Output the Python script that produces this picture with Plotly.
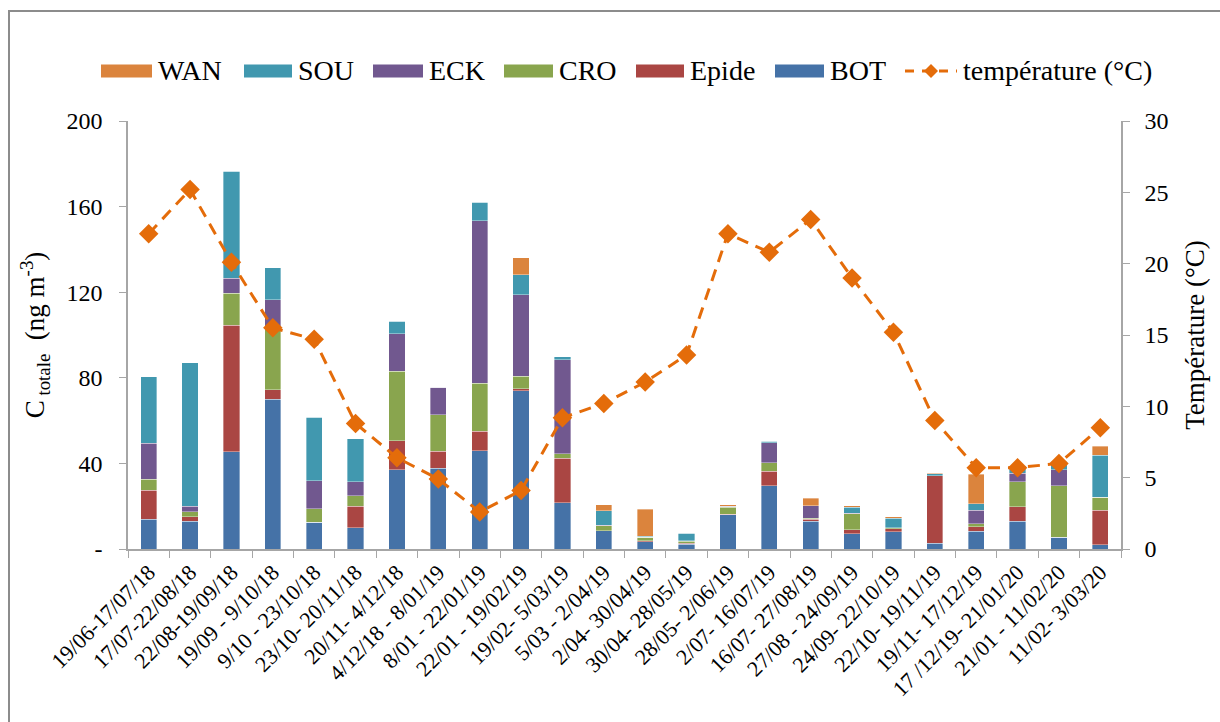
import plotly.graph_objects as go

# Sampling periods (x categories)
periods = [
    "19/06-17/07/18", "17/07-22/08/18", "22/08-19/09/18", "19/09 - 9/10/18",
    "9/10 - 23/10/18", "23/10- 20/11/18", "20/11- 4/12/18", "4/12/18 - 8/01/19",
    "8/01 - 22/01/19", "22/01 - 19/02/19", "19/02- 5/03/19", "5/03 - 2/04/19",
    "2/04- 30/04/19", "30/04- 28/05/19", "28/05- 2/06/19", "2/07- 16/07/19",
    "16/07- 27/08/19", "27/08 - 24/09/19", "24/09- 22/10/19", "22/10- 19/11/19",
    "19/11- 17/12/19", "17 /12/19- 21/01/20", "21/01 - 11/02/20", "11/02- 3/03/20",
]

# Concentrations per site (ng m-3), stacked bottom to top
BOT = [14, 13, 45.5, 70, 12.5, 10, 37, 37.7, 46, 74, 21.5, 8.5,
       3.4, 2.3, 16, 29.6, 13, 7.2, 8, 2.6, 8.4, 13, 5.5, 1.9]
Epide = [13.5, 2, 59, 4.5, 0, 10, 13.5, 8, 9, 0.8, 21, 0,
         0.5, 0.5, 0.3, 6.8, 1, 1.8, 1.5, 31.7, 2, 6.7, 0, 16.3]
CRO = [5, 2.5, 15, 29, 6.3, 5, 32.5, 17, 22.5, 6, 2, 2.3,
       1.5, 0.8, 3.3, 4, 0.3, 7.4, 0.5, 0, 1.4, 11.7, 24, 6]
ECK = [17, 2.5, 7, 13, 13, 6.5, 17.5, 13, 76, 38, 44, 0.3,
       0, 0.3, 0.3, 9.2, 6, 0.4, 0, 0, 6.4, 4, 7.5, 0]
SOU = [31, 67, 50, 15, 29.7, 20, 6, 0, 8.5, 9.3, 1.3, 6.7,
       0.6, 3.5, 0, 0.8, 0, 2.7, 4.3, 0.8, 3, 3.5, 4, 19.6]
WAN = [0, 0, 0, 0, 0, 0, 0, 0, 0, 8, 0, 2.8,
       12.5, 0, 0.7, 0, 3.5, 0.8, 0.7, 0.3, 13.8, 0, 0, 4.2]

# Mean temperature per period (°C)
temperature = [22.1, 25.2, 20.1, 15.5, 14.7, 8.8, 6.4, 4.9, 2.6, 4.1, 9.2, 10.2,
               11.7, 13.6, 22.1, 20.8, 23.1, 19.0, 15.2, 9.0, 5.7, 5.7, 6.0, 8.5]

left_ticks = [0, 40, 80, 120, 160, 200]
left_ticktext = ["-", "40", "80", "120", "160", "200"]
right_ticks = [0, 5, 10, 15, 20, 25, 30]

series = [
    ("BOT", BOT, "#4572A7"),
    ("Epide", Epide, "#AA4643"),
    ("CRO", CRO, "#89A54E"),
    ("ECK", ECK, "#71588F"),
    ("SOU", SOU, "#4198AF"),
    ("WAN", WAN, "#DB843D"),
]
TEMP_COLOR = "#E46C0A"
FONT = "Liberation Serif"

fig = go.Figure()
for name, vals, color in series:
    fig.add_trace(go.Bar(
        x=periods, y=vals, name=name, width=0.39,
        marker=dict(color=color, line=dict(color="rgba(255,255,255,0.45)", width=0.8)),
        showlegend=False,
    ))

fig.add_trace(go.Scatter(
    x=periods, y=temperature, name="température (°C)", yaxis="y2",
    mode="lines+markers",
    line=dict(color=TEMP_COLOR, width=3, dash="12px,8px"),
    marker=dict(symbol="diamond", size=15, color=TEMP_COLOR),
    showlegend=False,
))

# Plot-area geometry in pixels, used to place the hand-drawn legend and frame
W, H = 1220, 722
L, R, T, B = 128, 99, 121, 173
pw, ph = W - L - R, H - T - B


def px(xp):
    return (xp - L) / pw


def py(yp):
    return (H - B - yp) / ph


shapes = []
annotations = []

# Outer chart frame
shapes.append(dict(type="rect", xref="paper", yref="paper",
                   x0=px(9), x1=px(1240), y0=py(740), y1=py(11),
                   line=dict(color="#8C8C8C", width=2), layer="below"))

# Legend row
leg_y = 71
legend_items = [
    ("WAN", "#DB843D", 101, 152),
    ("SOU", "#4198AF", 244, 292),
    ("ECK", "#71588F", 373, 423),
    ("CRO", "#89A54E", 504, 553),
    ("Epide", "#AA4643", 636, 684),
    ("BOT", "#4572A7", 775, 824),
]
for label, color, x0, x1 in legend_items:
    shapes.append(dict(type="rect", xref="paper", yref="paper",
                       x0=px(x0), x1=px(x1), y0=py(leg_y + 6.5), y1=py(leg_y - 6.5),
                       fillcolor=color, line=dict(width=0)))
    annotations.append(dict(text=label, xref="paper", yref="paper",
                            x=px(x1 + 4), y=py(leg_y), xanchor="left", yanchor="middle",
                            showarrow=False, font=dict(size=28, family=FONT, color="black")))

# Temperature legend entry: dashed line with a diamond
shapes.append(dict(type="line", xref="paper", yref="paper",
                   x0=px(905), x1=px(957), y0=py(leg_y), y1=py(leg_y),
                   line=dict(color=TEMP_COLOR, width=3, dash="9px,8px")))
d = 7
shapes.append(dict(type="path", xref="paper", yref="paper",
                   path=(f"M {px(931)},{py(leg_y - d)} L {px(931 + d)},{py(leg_y)} "
                         f"L {px(931)},{py(leg_y + d)} L {px(931 - d)},{py(leg_y)} Z"),
                   fillcolor=TEMP_COLOR, line=dict(width=0)))
annotations.append(dict(text="température (°C)", xref="paper", yref="paper",
                        x=px(961), y=py(leg_y), xanchor="left", yanchor="middle",
                        showarrow=False, font=dict(size=28, family=FONT, color="black")))

axis_grey = "#A6A6A6"
fig.update_layout(
    width=W, height=H,
    margin=dict(l=L, r=R, t=T, b=B, pad=0),
    paper_bgcolor="white", plot_bgcolor="white",
    barmode="stack",
    font=dict(family=FONT, color="black", size=22),
    showlegend=False,
    shapes=shapes, annotations=annotations,
    xaxis=dict(
        type="category", range=[-0.5, len(periods) - 0.5],
        tickangle=-45, tickson="boundaries",
        ticks="outside", ticklen=7, tickcolor=axis_grey,
        showline=True, linecolor=axis_grey, linewidth=1.5,
        showgrid=False, tickfont=dict(size=22, family=FONT, color="black"),
    ),
    yaxis=dict(
        range=[0, 200], tickvals=left_ticks, ticktext=left_ticktext,
        ticks="outside", ticklen=7, tickcolor=axis_grey,
        showline=True, linecolor=axis_grey, linewidth=1.5,
        showgrid=False, zeroline=False, ticklabelstandoff=12,
        tickfont=dict(size=24, family=FONT, color="black"),
        title=dict(text="C<sub> totale</sub>  (ng m<sup>-3</sup>)",
                   font=dict(size=27, family=FONT, color="black"), standoff=14),
    ),
    yaxis2=dict(
        range=[0, 30], tickvals=right_ticks, overlaying="y", side="right",
        ticks="outside", ticklen=7, tickcolor=axis_grey,
        showline=True, linecolor=axis_grey, linewidth=1.5,
        showgrid=False, zeroline=False, ticklabelstandoff=10,
        tickfont=dict(size=24, family=FONT, color="black"),
        title=dict(text="Température (°C)",
                   font=dict(size=27, family=FONT, color="black"), standoff=18),
    ),
)

fig.write_html("out.html")
